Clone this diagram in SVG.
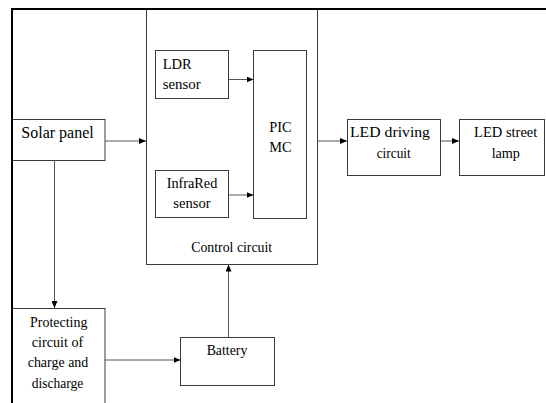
<svg xmlns="http://www.w3.org/2000/svg" width="546" height="403" viewBox="0 0 546 403">
<style>
  .box { fill: #ffffff; stroke: #3a3a3a; stroke-width: 1; }
  .cbox { fill: none; stroke: #3a3a3a; stroke-width: 1; }
  .m { text-anchor: middle; }
  .conn { stroke: #555555; stroke-width: 1; fill: none; }
</style>
<defs>
  <marker id="arr" markerUnits="userSpaceOnUse" markerWidth="7" markerHeight="6" refX="7" refY="3" orient="auto">
    <path d="M0,0 L7,3 L0,6 z" fill="#000"/>
  </marker>
</defs>
<rect x="0" y="0" width="546" height="403" fill="#ffffff"/>

<g font-family="Liberation Serif, Times New Roman, serif" font-size="15" fill="#000">
<g id="control-circuit">
  <rect class="cbox" x="146.5" y="9" width="171" height="255.5"/>
  <text class="m" x="231.7" y="251.7" textLength="81" lengthAdjust="spacingAndGlyphs">Control circuit</text>
</g>
<g id="ldr-sensor">
  <rect class="box" x="155.5" y="50.5" width="73" height="48"/>
  <text x="162.7" y="68.7" textLength="29" lengthAdjust="spacingAndGlyphs">LDR</text>
  <text x="162.7" y="89.3" textLength="38" lengthAdjust="spacingAndGlyphs">sensor</text>
</g>
<g id="pic-mc">
  <rect class="box" x="253.5" y="50.5" width="53" height="168"/>
  <text class="m" x="280.5" y="132" textLength="22.3" lengthAdjust="spacingAndGlyphs">PIC</text>
  <text class="m" x="280.5" y="152" textLength="22.3" lengthAdjust="spacingAndGlyphs">MC</text>
</g>
<g id="infrared-sensor">
  <rect class="box" x="155.5" y="170.5" width="73" height="47"/>
  <text class="m" x="192" y="188.3" textLength="50.7" lengthAdjust="spacingAndGlyphs">InfraRed</text>
  <text class="m" x="192" y="207.7" textLength="37.3" lengthAdjust="spacingAndGlyphs">sensor</text>
</g>
<g id="solar-panel">
  <rect class="box" x="12" y="119.5" width="93" height="41"/>
  <text x="21.3" y="138.3" font-size="16" textLength="72.4" lengthAdjust="spacingAndGlyphs">Solar panel</text>
</g>
<g id="led-driving-circuit">
  <rect class="box" x="347.5" y="119.5" width="93" height="56"/>
  <text class="m" x="390" y="137.3" textLength="80" lengthAdjust="spacingAndGlyphs">LED driving</text>
  <text class="m" x="393.7" y="157.5" textLength="34" lengthAdjust="spacingAndGlyphs">circuit</text>
</g>
<g id="led-street-lamp">
  <rect class="box" x="459.5" y="119.5" width="85" height="56"/>
  <text class="m" x="505.7" y="137.3" textLength="63.3" lengthAdjust="spacingAndGlyphs">LED street</text>
  <text class="m" x="505.8" y="157.5" textLength="28.3" lengthAdjust="spacingAndGlyphs">lamp</text>
</g>
<g id="protecting-circuit">
  <rect class="box" x="12" y="308.5" width="93" height="100"/>
  <text class="m" x="58.7" y="327" textLength="57.3" lengthAdjust="spacingAndGlyphs">Protecting</text>
  <text class="m" x="57.5" y="346.7" textLength="51.6" lengthAdjust="spacingAndGlyphs">circuit of</text>
  <text class="m" x="58" y="366.7" textLength="60.6" lengthAdjust="spacingAndGlyphs">charge and</text>
  <text class="m" x="57.5" y="388" textLength="51.6" lengthAdjust="spacingAndGlyphs">discharge</text>
</g>
<g id="battery">
  <rect class="box" x="180.5" y="337.5" width="94" height="48"/>
  <text class="m" x="227" y="355" textLength="40.7" lengthAdjust="spacingAndGlyphs">Battery</text>
</g>
</g>

<g id="connectors">
  <line class="conn" x1="105" y1="141" x2="146" y2="141" marker-end="url(#arr)"/>
  <line class="conn" x1="229" y1="79.5" x2="253.5" y2="79.5" marker-end="url(#arr)"/>
  <line class="conn" x1="229" y1="195" x2="253.5" y2="195" marker-end="url(#arr)"/>
  <line class="conn" x1="317" y1="141" x2="347" y2="141" marker-end="url(#arr)"/>
  <line class="conn" x1="441" y1="141" x2="459" y2="141" marker-end="url(#arr)"/>
  <line class="conn" x1="54.5" y1="160.5" x2="54.5" y2="308" marker-end="url(#arr)"/>
  <line class="conn" x1="105" y1="360" x2="180.5" y2="360" marker-end="url(#arr)"/>
  <line class="conn" x1="228.5" y1="337" x2="228.5" y2="264.5" marker-end="url(#arr)"/>
</g>

<path d="M12,404 V9 H547" fill="none" stroke="#000" stroke-width="2"/>
</svg>
